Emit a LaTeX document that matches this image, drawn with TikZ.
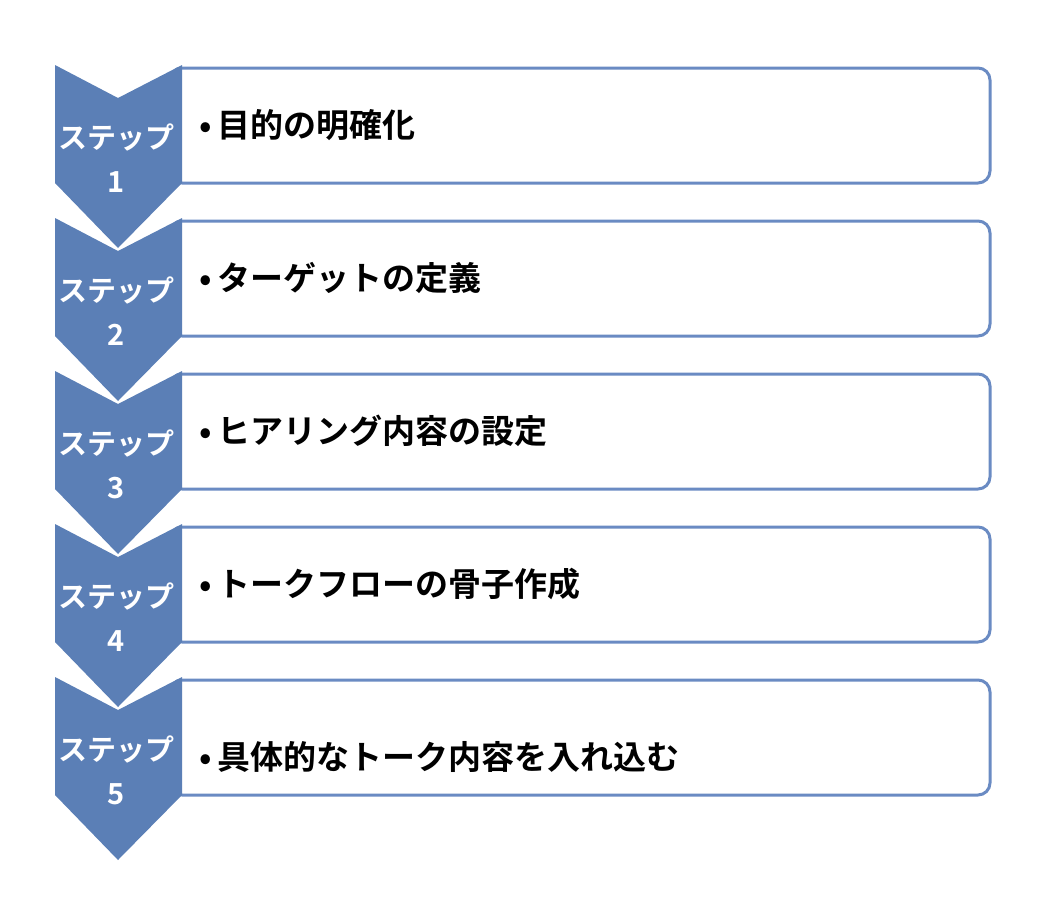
\documentclass[tikz,border=0pt]{standalone}
\usepackage{fontspec}
\setmainfont{Noto Sans CJK JP}[BoldFont={Noto Sans CJK JP Bold}]
\definecolor{chevblue}{HTML}{5B7FB6}
\definecolor{boxline}{HTML}{6A8BC3}
\tikzset{
  chevron/.style={fill=chevblue,draw=none},
  stepbox/.style={draw=boxline,line width=3,fill=white,rounded corners=12},
  steplabel/.style={text=white,font=\fontsize{29}{44}\selectfont\bfseries,align=center},
  itemtext/.style={anchor=west,font=\fontsize{33}{38}\selectfont\bfseries}
}
\begin{document}
\begin{tikzpicture}[x=1pt,y=-1pt]
  \useasboundingbox (0,0) rectangle (1060,916);
  \foreach \i/\txt/\dy in {1/目的の明確化/60,2/ターゲットの定義/60,3/ヒアリング内容の設定/60,4/トークフローの骨子作成/60,5/具体的なトーク内容を入れ込む/80}{
    \pgfmathsetmacro{\t}{65+153*(\i-1)}
    % box on the right
    \draw[stepbox] (170,\t+3) rectangle node[coordinate](c\i){} (990,\t+118);
    % chevron on the left
    \fill[chevron] (55,\t) -- (118,\t+33) -- (182,\t) -- (182,\t+118)
      -- (118,\t+183) -- (55,\t+118) -- cycle;
    \node[steplabel] (s\i) at (116,\t+93) {ステップ\\\i};
    \node[itemtext] (t\i) at (196,\t+\dy) {•\,\txt};
  }
\end{tikzpicture}
\end{document}
